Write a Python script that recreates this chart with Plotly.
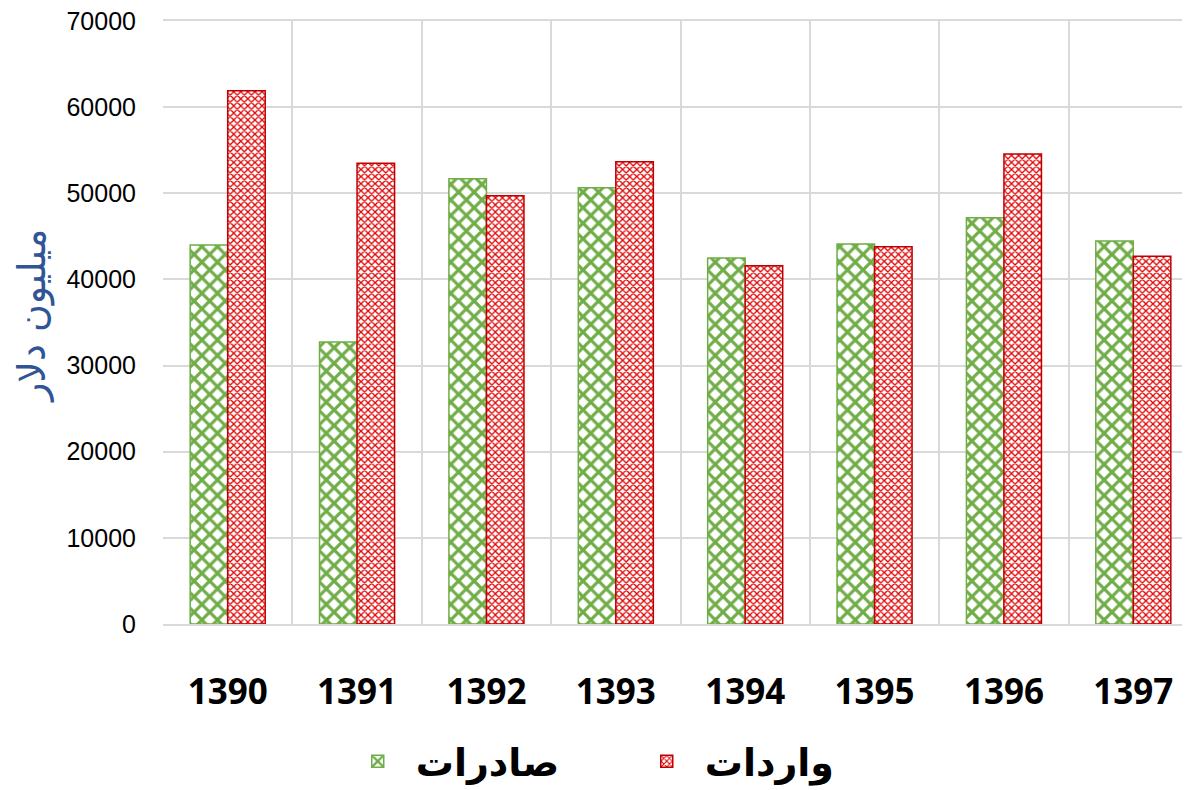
import plotly.graph_objects as go

years = ["1390", "1391", "1392", "1393", "1394", "1395", "1396", "1397"]
exports = [44000, 32750, 51700, 50650, 42500, 44100, 47150, 44450]
imports = [61900, 53500, 49700, 53650, 41600, 43800, 54550, 42700]
y_ticks = [0, 10000, 20000, 30000, 40000, 50000, 60000, 70000]

fig = go.Figure()
fig.add_trace(go.Bar(
    x=years, y=exports, name="صادرات",
    marker=dict(color="white",
                line=dict(color="#70AD47", width=1.5),
                pattern=dict(shape="x", fgcolor="#70AD47", bgcolor="white",
                             size=11, solidity=0.5, fillmode="replace")),
))
fig.add_trace(go.Bar(
    x=years, y=imports, name="واردات",
    marker=dict(color="white",
                line=dict(color="#C00000", width=1.5),
                pattern=dict(shape="x", fgcolor="#E00000", bgcolor="white",
                             size=5, solidity=0.45, fillmode="replace")),
))

fig.update_layout(
    width=1190, height=790,
    margin=dict(l=155, r=0, t=13, b=174),
    plot_bgcolor="white", paper_bgcolor="white",
    barmode="group", bargap=0.42, bargroupgap=0,
    font=dict(family="Open Sans", color="black"),
    legend=dict(orientation="h", x=0.45, xanchor="center", y=-0.228, yanchor="middle",
                font=dict(family="DejaVu Sans", size=38, color="black", weight="bold"),
                itemwidth=66, entrywidth=208),
    xaxis=dict(type="category", tickson="boundaries", showgrid=True,
               gridcolor="#D9D9D9", gridwidth=1.5, range=[-0.5, 7.5],
               showline=True, mirror=True, linecolor="#D9D9D9", linewidth=1.5,
               ticks="", ticklabelstandoff=36, automargin=False,
               tickfont=dict(family="Open Sans", size=35, color="black", weight="bold")),
    yaxis=dict(range=[0, 70000], tickvals=y_ticks, ticktext=[str(v) for v in y_ticks],
               showgrid=True, gridcolor="#D9D9D9", gridwidth=1.5, zeroline=False,
               ticks="", ticklabelstandoff=26, automargin=False,
               ticklabeloverflow="allow",
               tickfont=dict(family="Liberation Sans", size=25, color="black")),
    annotations=[dict(text="میلیون دلار", xref="paper", yref="paper",
                      x=-0.126, y=0.51, xanchor="center", yanchor="middle",
                      textangle=-90, showarrow=False,
                      font=dict(family="DejaVu Sans", size=38, color="#2F5597"))],
)

fig.write_html("out.html")
